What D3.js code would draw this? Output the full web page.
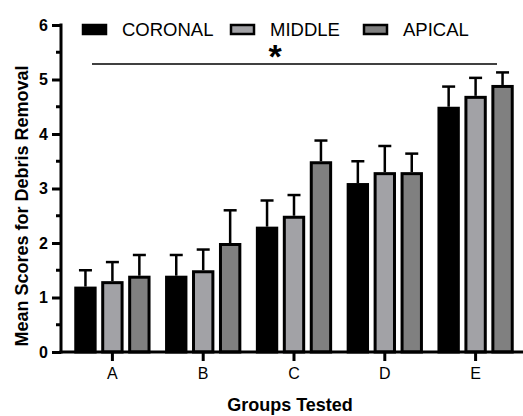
<!DOCTYPE html>
<html>
<head>
<meta charset="utf-8">
<script src="https://cdn.jsdelivr.net/npm/d3@7"></script>
<style>
  body { margin: 0; background: #fff; }
  text { font-family: "Liberation Sans", Arial, sans-serif; }
</style>
</head>
<body>
<svg id="chart" width="523" height="416"></svg>
<script>
const groups = ['A', 'B', 'C', 'D', 'E'];
const series = ['CORONAL', 'MIDDLE', 'APICAL'];
const coronal = [1.2, 1.4, 2.3, 3.1, 4.5];
const middle = [1.3, 1.5, 2.5, 3.3, 4.7];
const apical = [1.4, 2.0, 3.5, 3.3, 4.9];
// upper end of each error bar (mean + sd)
const coronalErr = [1.5, 1.78, 2.78, 3.5, 4.87];
const middleErr = [1.65, 1.88, 2.88, 3.78, 5.03];
const apicalErr = [1.78, 2.6, 3.88, 3.64, 5.13];
const yTicks = [0, 1, 2, 3, 4, 5, 6];

const colors = { CORONAL: '#000000', MIDDLE: '#a2a2a6', APICAL: '#808080' };
const values = { CORONAL: coronal, MIDDLE: middle, APICAL: apical };
const errs = { CORONAL: coronalErr, MIDDLE: middleErr, APICAL: apicalErr };

const svg = d3.select('#chart');

const y = d3.scaleLinear().domain([0, 6]).range([352, 25]);
const x = d3.scaleBand().domain(groups).range([67, 521])
  .paddingInner(0.16).paddingOuter(0.08);
const xs = d3.scaleBand().domain(series).range([0, x.bandwidth()]).paddingInner(0.17);

// bars
const g = svg.append('g');
series.forEach(s => {
  groups.forEach((grp, i) => {
    const bx = x(grp) + xs(s);
    const cx = bx + xs.bandwidth() / 2;
    // error bar (upper only)
    g.append('line')
      .attr('x1', cx).attr('x2', cx)
      .attr('y1', y(values[s][i])).attr('y2', y(errs[s][i]))
      .attr('stroke', '#000').attr('stroke-width', 2.5);
    g.append('line')
      .attr('x1', cx - 6.5).attr('x2', cx + 6.5)
      .attr('y1', y(errs[s][i])).attr('y2', y(errs[s][i]))
      .attr('stroke', '#000').attr('stroke-width', 2.5);
    g.append('rect')
      .attr('x', bx + 1.5)
      .attr('y', y(values[s][i]) + 1.5)
      .attr('width', xs.bandwidth() - 3)
      .attr('height', y(0) - y(values[s][i]) - 1.5)
      .attr('fill', colors[s])
      .attr('stroke', '#000')
      .attr('stroke-width', 3);
  });
});

// y axis
const yAxis = svg.append('g')
  .attr('transform', 'translate(61,0)')
  .call(d3.axisLeft(y).tickValues(yTicks).tickFormat(d3.format('d')).tickSize(9).tickPadding(4));
yAxis.selectAll('.tick line').attr('stroke-width', 3);
yAxis.select('.domain').remove();
yAxis.selectAll('text').attr('font-size', 16).attr('font-weight', 'bold').attr('fill', '#000');
// minor ticks
yAxis.selectAll('.minor')
  .data(d3.range(0.5, 6, 1))
  .enter().append('line')
  .attr('x1', -5).attr('x2', 0)
  .attr('y1', d => y(d)).attr('y2', d => y(d))
  .attr('stroke', '#000').attr('stroke-width', 3);
svg.append('line')
  .attr('x1', 61).attr('x2', 61).attr('y1', y(6) - 1.5).attr('y2', y(0) + 1.5)
  .attr('stroke', '#000').attr('stroke-width', 3);

// x axis
const xAxis = svg.append('g')
  .attr('transform', `translate(0,${y(0)})`)
  .call(d3.axisBottom(x).tickSize(9).tickPadding(7));
xAxis.select('.domain').remove();
xAxis.selectAll('.tick line').attr('stroke-width', 3);
xAxis.selectAll('text').attr('font-size', 16).attr('font-weight', 500).attr('fill', '#000');
svg.append('line')
  .attr('x1', 59.5).attr('x2', 523).attr('y1', y(0)).attr('y2', y(0))
  .attr('stroke', '#000').attr('stroke-width', 3);

// axis titles
svg.append('text')
  .attr('transform', 'translate(28,206) rotate(-90)')
  .attr('text-anchor', 'middle')
  .attr('font-size', 18).attr('font-weight', 'bold')
  .text('Mean Scores for Debris Removal');
svg.append('text')
  .attr('x', 290).attr('y', 411)
  .attr('text-anchor', 'middle')
  .attr('font-size', 18).attr('font-weight', 'bold')
  .text('Groups Tested');

// legend
const legendX = [83, 231, 364];
series.forEach((s, i) => {
  svg.append('rect')
    .attr('x', legendX[i]).attr('y', 25)
    .attr('width', 23).attr('height', 9)
    .attr('fill', colors[s]).attr('stroke', '#000').attr('stroke-width', 2.5);
  svg.append('text')
    .attr('x', legendX[i] + 39).attr('y', 36)
    .attr('font-size', 18.5)
    .text(s);
});

// significance line
svg.append('line')
  .attr('x1', 92).attr('x2', 497).attr('y1', 64).attr('y2', 64)
  .attr('stroke', '#000').attr('stroke-width', 1.5);
svg.append('text')
  .attr('x', 275).attr('y', 68)
  .attr('text-anchor', 'middle')
  .attr('font-size', 34).attr('font-weight', 'bold')
  .text('*');
</script>
</body>
</html>
